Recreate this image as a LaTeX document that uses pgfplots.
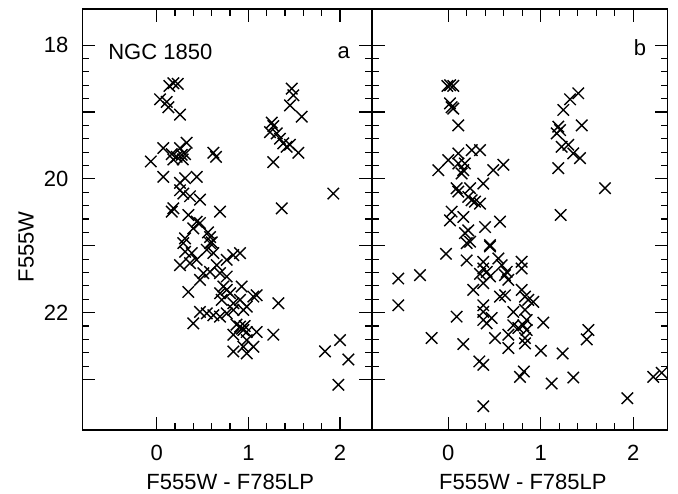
\documentclass[border=0pt]{standalone}
\usepackage{pgfplots}
\pgfplotsset{compat=1.18}
\usepackage{fontspec}
\setmainfont{Liberation Sans}

% colour-magnitude diagrams, panels a and b
\pgfplotstableread{
c m
0.138 18.61
0.181 18.57
0.229 18.58
0.036 18.81
0.109 18.85
0.127 18.93
0.254 19.04
0.072 19.54
0.164 19.63
0.218 19.67
0.273 19.64
0.254 19.54
0.327 19.46
0.181 19.71
0.284 19.71
0.309 19.63
-0.065 19.74
0.618 19.61
0.647 19.67
0.072 19.97
0.254 20.06
0.309 19.99
0.436 19.97
0.254 20.17
0.290 20.22
0.363 20.26
0.472 20.31
0.181 20.44
0.164 20.49
0.345 20.54
0.436 20.64
0.399 20.74
0.472 20.66
0.582 20.87
0.309 20.89
0.691 20.49
1.255 19.16
1.272 19.21
1.236 19.30
1.309 19.32
1.345 19.40
1.381 19.47
1.418 19.52
1.454 19.49
1.545 19.61
1.272 19.75
1.473 18.65
1.490 18.75
1.454 18.90
1.582 19.07
1.927 20.22
1.364 20.44
0.290 20.96
0.309 21.09
0.382 21.11
0.254 21.29
0.363 21.26
0.546 21.06
0.582 20.96
0.618 21.11
0.509 21.41
0.582 21.39
0.472 21.51
0.655 21.29
0.764 21.21
0.836 21.14
0.909 21.11
0.691 21.41
0.764 21.46
0.345 21.69
0.727 21.61
0.764 21.66
0.800 21.71
0.709 21.81
0.836 21.86
0.909 21.81
1.054 21.76
0.982 21.91
1.091 21.74
1.327 21.86
0.472 21.99
0.546 22.01
0.618 22.04
0.691 22.06
0.764 22.01
0.836 21.96
0.945 21.96
0.399 22.16
0.909 22.21
0.945 22.26
0.982 22.29
0.836 22.33
1.091 22.29
0.982 22.41
1.054 22.51
0.945 22.51
0.836 22.58
0.982 22.61
1.272 22.33
1.836 22.58
2.000 22.41
2.091 22.70
1.982 23.08
0.436 21.21
0.691 21.71
0.927 21.61
0.870 22.18
0.930 22.24
0.960 22.20
0.560 20.80
0.600 20.95
}\panela

\pgfplotstableread{
c m
-0.010 18.61
0.020 18.60
0.054 18.61
0.018 18.87
0.054 18.95
0.036 18.93
0.108 19.20
1.405 18.72
1.316 18.81
1.243 18.97
1.189 19.22
1.208 19.27
1.172 19.32
1.442 19.20
1.226 19.52
1.297 19.49
1.351 19.62
1.424 19.69
1.189 19.84
1.694 20.14
1.215 20.54
-0.108 19.87
0.000 19.72
0.108 19.62
0.108 19.77
0.180 19.77
0.162 19.87
0.144 19.92
0.253 19.57
0.343 19.57
0.486 19.87
0.595 19.79
0.090 20.14
0.108 20.19
0.235 20.14
0.378 20.07
0.216 20.27
0.253 20.32
0.289 20.34
0.343 20.37
0.036 20.49
0.018 20.62
0.162 20.57
0.397 20.72
0.559 20.64
0.180 20.81
0.216 20.77
0.235 20.94
0.451 20.99
0.199 20.96
0.451 21.01
-0.025 21.12
0.199 21.22
0.378 21.24
0.378 21.34
0.415 21.39
0.541 21.19
0.577 21.29
0.631 21.39
0.613 21.44
0.649 21.51
0.793 21.24
0.793 21.34
-0.541 21.49
-0.306 21.44
-0.541 21.89
0.270 21.66
0.378 21.56
0.451 21.46
0.559 21.76
0.613 21.74
0.793 21.66
0.829 21.76
0.865 21.81
0.919 21.84
0.829 21.96
0.703 21.99
0.378 21.89
0.378 21.99
0.378 22.11
0.415 22.16
0.469 22.08
0.090 22.06
-0.180 22.38
0.162 22.47
0.505 22.38
0.649 22.33
0.703 22.19
0.757 22.23
0.811 22.19
0.847 22.11
0.847 22.26
0.829 22.38
0.829 22.46
0.649 22.53
1.027 22.15
1.002 22.57
1.236 22.61
1.514 22.26
1.496 22.40
0.335 22.73
0.378 22.78
0.775 22.96
0.818 22.88
1.118 23.06
1.351 22.97
0.378 23.40
1.935 23.28
2.216 22.96
2.307 22.90
0.343 21.42
}\panelb

\pgfplotsset{
  cmd/.style={
    scale only axis,
    height=421pt,
    ymin=17.46, ymax=23.755,
    y dir=reverse,
    axis line style={line width=1.4pt},
    tick style={line width=1.2pt, black},
    major tick length=13pt,
    minor tick length=7pt,
    xtick={0,1,2},
    minor x tick num=4,
    ytick={18,19,20,21,22,23},
    minor y tick num=4,
    tick align=inside,
    /pgf/number format/assume math mode=true,
    ticklabel style={font=\fontsize{22}{26}\selectfont},
    label style={font=\fontsize{22}{26}\selectfont},
    xticklabel style={anchor=north, inner sep=0pt, yshift=-15pt},
    xlabel={F555W - F785LP},
    xlabel style={at={(axis description cs:0.5,0)}, anchor=base, inner sep=0pt, yshift=-59pt, xshift=3pt},
  },
  crosses/.style={only marks, mark=x, mark size=8.1pt, line width=1.4pt, black},
}

\begin{document}
\begin{tikzpicture}
\path[use as bounding box] (-82.5pt,-64pt) rectangle (595.5pt,430pt);

\begin{axis}[cmd,
  name=a, at={(0pt,0pt)}, anchor=south west,
  width=289.5pt,
  xmin=-0.81, xmax=2.349,
  yticklabels={18,,20,,22,},
  yticklabel style={anchor=east, inner sep=0pt, xshift=-14pt},
  ylabel={F555W},
  ylabel style={at={(axis description cs:-0.195,0.435)}, anchor=center, inner sep=0pt},
]
\addplot [crosses] table [x=c, y=m] {\panela};
\node[anchor=base west, inner sep=0pt, font=\fontsize{22}{26}\selectfont] at (axis cs:-0.53,18.21) {NGC 1850};
\node[anchor=base east, inner sep=0pt, font=\fontsize{22}{26}\selectfont] at (axis cs:2.11,18.2) {a};
\end{axis}

\begin{axis}[cmd,
  at={(a.south east)}, anchor=south west,
  width=295.7pt,
  xmin=-0.825, xmax=2.372,
  yticklabels={},
]
\addplot [crosses] table [x=c, y=m] {\panelb};
\node[anchor=base east, inner sep=0pt, font=\fontsize{22}{26}\selectfont] at (axis cs:2.14,18.16) {b};
\end{axis}
\end{tikzpicture}
\end{document}
